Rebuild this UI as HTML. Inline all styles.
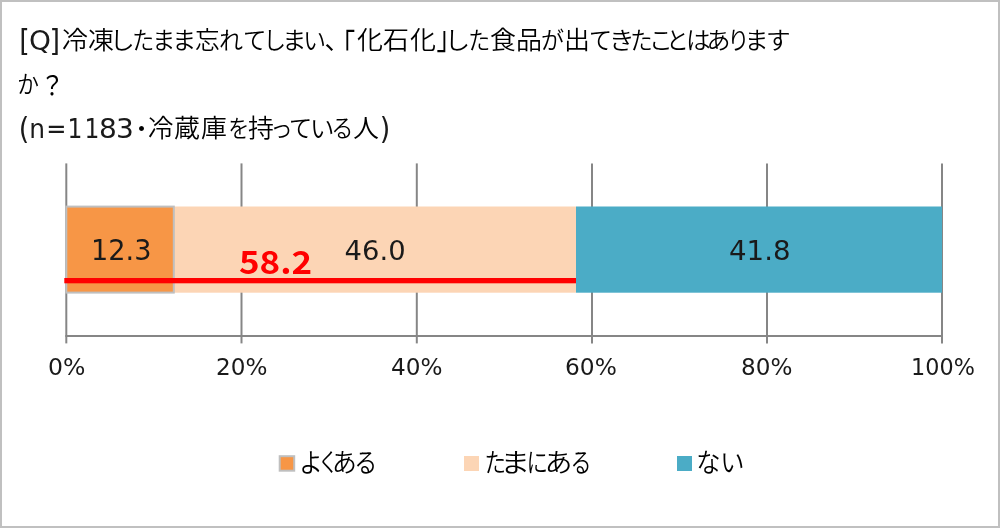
<!DOCTYPE html>
<html><head><meta charset="utf-8">
<style>
html,body{margin:0;padding:0;background:#fff;}
body{width:1000px;height:528px;position:relative;overflow:hidden;}
#frame{position:absolute;left:0;top:0;width:1000px;height:528px;box-sizing:border-box;border:2px solid #c0c0c0;}
.jp{font-family:"DejaVu Sans","Noto Sans CJK JP",sans-serif;color:#000;white-space:nowrap;position:absolute;font-feature-settings:"palt";}
.t{font-size:26.67px;line-height:44px;}
.l{font-size:23px;}
.lat{font-family:"DejaVu Sans",sans-serif;}
.g{position:absolute;white-space:pre;line-height:40px;}
.num{position:absolute;font-family:"DejaVu Sans",sans-serif;white-space:nowrap;color:#000;}
svg{position:absolute;left:0;top:0;}
</style></head>
<body>
<div id="frame"></div>
<svg width="1000" height="528" viewBox="0 0 1000 528">
  <g stroke="#868686" stroke-width="2">
    <line x1="66.3" y1="163.4" x2="66.3" y2="343.4"/>
    <line x1="241.5" y1="163.4" x2="241.5" y2="343.4"/>
    <line x1="416.8" y1="163.4" x2="416.8" y2="343.4"/>
    <line x1="592" y1="163.4" x2="592" y2="343.4"/>
    <line x1="767" y1="163.4" x2="767" y2="343.4"/>
    <line x1="942" y1="163.4" x2="942" y2="343.4"/>
    <line x1="65.3" y1="336" x2="943" y2="336"/>
  </g>
  <rect x="174" y="206.5" width="402" height="86.2" fill="#FCD5B5"/>
  <rect x="576" y="206.5" width="366" height="86.2" fill="#4BACC6"/>
  <rect x="66.3" y="206.6" width="107.5" height="86" fill="#F79646" stroke="#BFBFBF" stroke-width="2"/>
  <rect x="279.7" y="456.2" width="14.5" height="14.5" fill="#F79646" stroke="#BFBFBF" stroke-width="2"/>
  <rect x="64.3" y="278" width="511.7" height="5.3" fill="#FF0000"/>
</svg>

<div id="txt" style="position:absolute;left:0;top:0;width:1000px;height:528px;will-change:transform">
<span class="g" style="left:19.2px;top:20.3px;font-family:'DejaVu Sans',sans-serif;font-size:27px;font-weight:400;color:#1a1a1a;transform:scale(1.000,1.104);transform-origin:2px 9px;">[</span>
<span class="g" style="left:28.6px;top:21.0px;font-family:'DejaVu Sans',sans-serif;font-size:27px;font-weight:400;color:#1a1a1a;transform:scale(1.033,1.000);transform-origin:2px 29px;">Q</span>
<span class="g" style="left:49.4px;top:20.3px;font-family:'DejaVu Sans',sans-serif;font-size:27px;font-weight:400;color:#1a1a1a;transform:scale(1.000,1.104);transform-origin:3px 9px;">]</span>
<span class="g" style="left:61.6px;top:20.2px;font-family:'Liberation Sans','Noto Sans CJK JP',sans-serif;font-size:25.2px;font-weight:350;color:#000;transform:scale(1.030,1.000);transform-origin:1px 29px;">冷</span>
<span class="g" style="left:88.2px;top:20.2px;font-family:'Liberation Sans','Noto Sans CJK JP',sans-serif;font-size:25.2px;font-weight:350;color:#000;transform:scale(1.030,1.000);transform-origin:1px 29px;">凍</span>
<span class="g" style="left:110.0px;top:21.3px;font-family:'Liberation Sans','Noto Sans CJK JP',sans-serif;font-size:24px;font-weight:350;color:#000;transform:scale(1.040,1.000);transform-origin:6px 28px;">し</span>
<span class="g" style="left:132.2px;top:21.3px;font-family:'Liberation Sans','Noto Sans CJK JP',sans-serif;font-size:24px;font-weight:350;color:#000;transform:scale(0.915,1.000);transform-origin:2px 28px;">た</span>
<span class="g" style="left:151.7px;top:21.3px;font-family:'Liberation Sans','Noto Sans CJK JP',sans-serif;font-size:24px;font-weight:350;color:#000;transform:scale(0.971,1.000);transform-origin:4px 28px;">ま</span>
<span class="g" style="left:172.0px;top:21.3px;font-family:'Liberation Sans','Noto Sans CJK JP',sans-serif;font-size:24px;font-weight:350;color:#000;transform:scale(1.012,1.000);transform-origin:4px 28px;">ま</span>
<span class="g" style="left:194.5px;top:20.2px;font-family:'Liberation Sans','Noto Sans CJK JP',sans-serif;font-size:25.2px;font-weight:350;color:#000;transform:scale(0.978,1.000);transform-origin:1px 29px;">忘</span>
<span class="g" style="left:219.0px;top:21.3px;font-family:'Liberation Sans','Noto Sans CJK JP',sans-serif;font-size:24px;font-weight:350;color:#000;">れ</span>
<span class="g" style="left:243.0px;top:21.3px;font-family:'Liberation Sans','Noto Sans CJK JP',sans-serif;font-size:24px;font-weight:350;color:#000;transform:scale(0.979,1.000);transform-origin:2px 28px;">て</span>
<span class="g" style="left:263.2px;top:21.3px;font-family:'Liberation Sans','Noto Sans CJK JP',sans-serif;font-size:24px;font-weight:350;color:#000;transform:scale(0.953,1.000);transform-origin:6px 28px;">し</span>
<span class="g" style="left:281.7px;top:21.3px;font-family:'Liberation Sans','Noto Sans CJK JP',sans-serif;font-size:24px;font-weight:350;color:#000;transform:scale(1.018,1.000);transform-origin:4px 28px;">ま</span>
<span class="g" style="left:303.0px;top:21.3px;font-family:'Liberation Sans','Noto Sans CJK JP',sans-serif;font-size:24px;font-weight:350;color:#000;transform:scale(0.947,1.000);transform-origin:3px 28px;">い</span>
<span class="g" style="left:324.6px;top:20.2px;font-family:'Liberation Sans','Noto Sans CJK JP',sans-serif;font-size:25.2px;font-weight:400;color:#000;">、</span>
<span class="g" style="left:330.0px;top:21.5px;font-family:'Liberation Sans','Noto Sans CJK JP',sans-serif;font-size:25.2px;font-weight:400;color:#000;transform:scale(1.000,1.235);transform-origin:16px 7px;">「</span>
<span class="g" style="left:357.0px;top:20.2px;font-family:'Liberation Sans','Noto Sans CJK JP',sans-serif;font-size:25.2px;font-weight:350;color:#000;transform:scale(1.030,1.000);transform-origin:1px 29px;">化</span>
<span class="g" style="left:382.9px;top:20.2px;font-family:'Liberation Sans','Noto Sans CJK JP',sans-serif;font-size:25.2px;font-weight:350;color:#000;transform:scale(1.030,1.000);transform-origin:1px 29px;">石</span>
<span class="g" style="left:409.5px;top:20.2px;font-family:'Liberation Sans','Noto Sans CJK JP',sans-serif;font-size:25.2px;font-weight:350;color:#000;transform:scale(1.030,1.000);transform-origin:1px 29px;">化</span>
<span class="g" style="left:436.5px;top:15.8px;font-family:'Liberation Sans','Noto Sans CJK JP',sans-serif;font-size:25.2px;font-weight:400;color:#000;transform:scale(1.000,1.271);transform-origin:1px 15px;">」</span>
<span class="g" style="left:445.1px;top:21.3px;font-family:'Liberation Sans','Noto Sans CJK JP',sans-serif;font-size:24px;font-weight:350;color:#000;transform:scale(1.060,1.000);transform-origin:6px 28px;">し</span>
<span class="g" style="left:467.7px;top:21.3px;font-family:'Liberation Sans','Noto Sans CJK JP',sans-serif;font-size:24px;font-weight:350;color:#000;transform:scale(0.915,1.000);transform-origin:2px 28px;">た</span>
<span class="g" style="left:489.9px;top:20.2px;font-family:'Liberation Sans','Noto Sans CJK JP',sans-serif;font-size:25.2px;font-weight:350;color:#000;transform:scale(1.030,1.000);transform-origin:1px 29px;">食</span>
<span class="g" style="left:516.3px;top:20.2px;font-family:'Liberation Sans','Noto Sans CJK JP',sans-serif;font-size:25.2px;font-weight:350;color:#000;transform:scale(1.030,1.000);transform-origin:2px 29px;">品</span>
<span class="g" style="left:541.0px;top:21.3px;font-family:'Liberation Sans','Noto Sans CJK JP',sans-serif;font-size:24px;font-weight:350;color:#000;transform:scale(0.962,1.000);transform-origin:2px 28px;">が</span>
<span class="g" style="left:563.6px;top:20.2px;font-family:'Liberation Sans','Noto Sans CJK JP',sans-serif;font-size:25.2px;font-weight:350;color:#000;transform:scale(1.030,1.000);transform-origin:3px 29px;">出</span>
<span class="g" style="left:589.1px;top:21.3px;font-family:'Liberation Sans','Noto Sans CJK JP',sans-serif;font-size:24px;font-weight:350;color:#000;transform:scale(0.963,1.000);transform-origin:2px 28px;">て</span>
<span class="g" style="left:608.7px;top:21.3px;font-family:'Liberation Sans','Noto Sans CJK JP',sans-serif;font-size:24px;font-weight:350;color:#000;transform:scale(1.081,1.000);transform-origin:4px 28px;">き</span>
<span class="g" style="left:629.5px;top:21.3px;font-family:'Liberation Sans','Noto Sans CJK JP',sans-serif;font-size:24px;font-weight:350;color:#000;transform:scale(0.935,1.000);transform-origin:2px 28px;">た</span>
<span class="g" style="left:649.2px;top:21.3px;font-family:'Liberation Sans','Noto Sans CJK JP',sans-serif;font-size:24px;font-weight:350;color:#000;transform:scale(0.987,1.000);transform-origin:4px 28px;">こ</span>
<span class="g" style="left:666.4px;top:21.3px;font-family:'Liberation Sans','Noto Sans CJK JP',sans-serif;font-size:24px;font-weight:350;color:#000;transform:scale(0.940,1.000);transform-origin:5px 28px;">と</span>
<span class="g" style="left:685.5px;top:21.3px;font-family:'Liberation Sans','Noto Sans CJK JP',sans-serif;font-size:24px;font-weight:350;color:#000;transform:scale(1.026,1.000);transform-origin:3px 28px;">は</span>
<span class="g" style="left:706.5px;top:21.3px;font-family:'Liberation Sans','Noto Sans CJK JP',sans-serif;font-size:24px;font-weight:350;color:#000;">あ</span>
<span class="g" style="left:726.5px;top:21.3px;font-family:'Liberation Sans','Noto Sans CJK JP',sans-serif;font-size:24px;font-weight:350;color:#000;transform:scale(0.929,1.000);transform-origin:5px 28px;">り</span>
<span class="g" style="left:744.5px;top:21.3px;font-family:'Liberation Sans','Noto Sans CJK JP',sans-serif;font-size:24px;font-weight:350;color:#000;">ま</span>
<span class="g" style="left:766.0px;top:21.3px;font-family:'Liberation Sans','Noto Sans CJK JP',sans-serif;font-size:24px;font-weight:350;color:#000;transform:scale(1.025,1.000);transform-origin:2px 28px;">す</span>
<span class="g" style="left:16.5px;top:65.3px;font-family:'Liberation Sans','Noto Sans CJK JP',sans-serif;font-size:24px;font-weight:350;color:#000;transform:scale(0.905,1.000);transform-origin:2px 28px;">か</span>
<span class="g" style="left:39.7px;top:64.7px;font-family:'Liberation Sans','Noto Sans CJK JP',sans-serif;font-size:25.2px;font-weight:400;color:#000;transform:scale(0.958,1.053);transform-origin:7px 10px;">？</span>
<span class="g" style="left:18.8px;top:107.8px;font-family:'DejaVu Sans',sans-serif;font-size:27px;font-weight:400;color:#1a1a1a;transform:scale(1.000,1.083);transform-origin:2px 9px;">(</span>
<span class="g" style="left:29.4px;top:109.0px;font-family:'DejaVu Sans',sans-serif;font-size:27px;font-weight:400;color:#1a1a1a;transform:scale(0.923,1.000);transform-origin:2px 29px;">n</span>
<span class="g" style="left:45.6px;top:109.0px;font-family:'DejaVu Sans',sans-serif;font-size:27px;font-weight:400;color:#1a1a1a;transform:scale(0.894,1.000);transform-origin:3px 29px;">=</span>
<span class="g" style="left:67.2px;top:109.0px;font-family:'DejaVu Sans',sans-serif;font-size:27px;font-weight:400;color:#1a1a1a;transform:scale(0.867,1.000);transform-origin:3px 29px;">1</span>
<span class="g" style="left:84.0px;top:109.0px;font-family:'DejaVu Sans',sans-serif;font-size:27px;font-weight:400;color:#1a1a1a;transform:scale(0.867,1.000);transform-origin:3px 29px;">1</span>
<span class="g" style="left:99.0px;top:109.0px;font-family:'DejaVu Sans',sans-serif;font-size:27px;font-weight:400;color:#1a1a1a;transform:scale(1.038,1.000);transform-origin:2px 29px;">8</span>
<span class="g" style="left:116.2px;top:109.0px;font-family:'DejaVu Sans',sans-serif;font-size:27px;font-weight:400;color:#1a1a1a;transform:scale(1.038,1.000);transform-origin:2px 29px;">3</span>
<span class="g" style="left:129.4px;top:109.3px;font-family:'Liberation Sans','Noto Sans CJK JP',sans-serif;font-size:24px;font-weight:350;color:#000;">・</span>
<span class="g" style="left:148.0px;top:108.2px;font-family:'Liberation Sans','Noto Sans CJK JP',sans-serif;font-size:25.2px;font-weight:350;color:#000;transform:scale(1.009,1.000);transform-origin:1px 29px;">冷</span>
<span class="g" style="left:174.4px;top:108.2px;font-family:'Liberation Sans','Noto Sans CJK JP',sans-serif;font-size:25.2px;font-weight:350;color:#000;transform:scale(1.030,1.000);transform-origin:1px 29px;">蔵</span>
<span class="g" style="left:200.9px;top:108.2px;font-family:'Liberation Sans','Noto Sans CJK JP',sans-serif;font-size:25.2px;font-weight:350;color:#000;transform:scale(1.030,1.000);transform-origin:1px 29px;">庫</span>
<span class="g" style="left:227.5px;top:109.3px;font-family:'Liberation Sans','Noto Sans CJK JP',sans-serif;font-size:24px;font-weight:350;color:#000;transform:scale(0.878,1.000);transform-origin:3px 28px;">を</span>
<span class="g" style="left:247.9px;top:108.2px;font-family:'Liberation Sans','Noto Sans CJK JP',sans-serif;font-size:25.2px;font-weight:350;color:#000;transform:scale(1.030,1.000);transform-origin:1px 29px;">持</span>
<span class="g" style="left:270.0px;top:109.3px;font-family:'Liberation Sans','Noto Sans CJK JP',sans-serif;font-size:24px;font-weight:350;color:#000;transform:scale(0.938,1.000);transform-origin:4px 28px;">っ</span>
<span class="g" style="left:289.3px;top:109.3px;font-family:'Liberation Sans','Noto Sans CJK JP',sans-serif;font-size:24px;font-weight:350;color:#000;transform:scale(0.968,1.000);transform-origin:2px 28px;">て</span>
<span class="g" style="left:309.9px;top:109.3px;font-family:'Liberation Sans','Noto Sans CJK JP',sans-serif;font-size:24px;font-weight:350;color:#000;transform:scale(1.016,1.000);transform-origin:3px 28px;">い</span>
<span class="g" style="left:330.8px;top:109.3px;font-family:'Liberation Sans','Noto Sans CJK JP',sans-serif;font-size:24px;font-weight:350;color:#000;transform:scale(0.924,1.000);transform-origin:3px 28px;">る</span>
<span class="g" style="left:352.9px;top:108.2px;font-family:'Liberation Sans','Noto Sans CJK JP',sans-serif;font-size:25.2px;font-weight:350;color:#000;transform:scale(1.030,1.000);transform-origin:1px 29px;">人</span>
<span class="g" style="left:379.7px;top:107.8px;font-family:'DejaVu Sans',sans-serif;font-size:27px;font-weight:400;color:#1a1a1a;transform:scale(1.000,1.083);transform-origin:2px 9px;">)</span>
<span class="g" style="left:298.8px;top:443.3px;font-family:'Liberation Sans','Noto Sans CJK JP',sans-serif;font-size:25.6px;font-weight:350;color:#000;transform:scale(0.921,1.000);transform-origin:3px 29px;">よ</span>
<span class="g" style="left:316.6px;top:443.3px;font-family:'Liberation Sans','Noto Sans CJK JP',sans-serif;font-size:25.6px;font-weight:350;color:#000;transform:scale(0.800,1.000);transform-origin:5px 29px;">く</span>
<span class="g" style="left:331.6px;top:443.3px;font-family:'Liberation Sans','Noto Sans CJK JP',sans-serif;font-size:25.6px;font-weight:350;color:#000;transform:scale(0.970,1.000);transform-origin:3px 29px;">あ</span>
<span class="g" style="left:354.2px;top:443.3px;font-family:'Liberation Sans','Noto Sans CJK JP',sans-serif;font-size:25.6px;font-weight:350;color:#000;transform:scale(0.900,1.000);transform-origin:3px 29px;">る</span>
<span class="g" style="left:484.2px;top:443.3px;font-family:'Liberation Sans','Noto Sans CJK JP',sans-serif;font-size:25.6px;font-weight:350;color:#000;transform:scale(0.840,1.000);transform-origin:3px 29px;">た</span>
<span class="g" style="left:500.8px;top:443.3px;font-family:'Liberation Sans','Noto Sans CJK JP',sans-serif;font-size:25.6px;font-weight:350;color:#000;transform:scale(1.165,1.000);transform-origin:5px 29px;">ま</span>
<span class="g" style="left:526.2px;top:443.3px;font-family:'Liberation Sans','Noto Sans CJK JP',sans-serif;font-size:25.6px;font-weight:350;color:#000;transform:scale(0.840,1.000);transform-origin:3px 29px;">に</span>
<span class="g" style="left:544.8px;top:443.3px;font-family:'Liberation Sans','Noto Sans CJK JP',sans-serif;font-size:25.6px;font-weight:350;color:#000;transform:scale(1.080,1.000);transform-origin:3px 29px;">あ</span>
<span class="g" style="left:570.0px;top:443.3px;font-family:'Liberation Sans','Noto Sans CJK JP',sans-serif;font-size:25.6px;font-weight:350;color:#000;transform:scale(0.821,1.000);transform-origin:3px 29px;">る</span>
<span class="g" style="left:696.3px;top:443.3px;font-family:'Liberation Sans','Noto Sans CJK JP',sans-serif;font-size:25.6px;font-weight:350;color:#000;transform:scale(0.948,1.000);transform-origin:3px 29px;">な</span>
<span class="g" style="left:719.5px;top:443.3px;font-family:'Liberation Sans','Noto Sans CJK JP',sans-serif;font-size:25.6px;font-weight:350;color:#000;transform:scale(0.945,1.000);transform-origin:3px 29px;">い</span>
<span class="g" style="left:90.9px;top:230.8px;font-family:'DejaVu Sans',sans-serif;font-size:27.4px;font-weight:400;color:#1a1a1a;transform:scale(0.991,1.005);transform-origin:3px 9px;">12.3</span>
<span class="g" style="left:344.6px;top:231.2px;font-family:'DejaVu Sans',sans-serif;font-size:27.4px;font-weight:400;color:#1a1a1a;">46.0</span>
<span class="g" style="left:728.5px;top:231.2px;font-family:'DejaVu Sans',sans-serif;font-size:27.4px;font-weight:400;color:#1a1a1a;transform:scale(1.009,0.990);transform-origin:1px 9px;">41.8</span>
<span class="g" style="left:239.1px;top:240.6px;font-family:'Noto Sans CJK JP',sans-serif;font-size:33px;font-weight:700;color:#FF0000;transform:scale(1.060,0.975);transform-origin:1px 10px;">58.2</span>
<span class="g" style="left:48.4px;top:347.0px;font-family:'DejaVu Sans',sans-serif;font-size:23px;font-weight:400;color:#1a1a1a;transform:scale(1.024,0.994);transform-origin:1px 11px;">0%</span>
<span class="g" style="left:216.4px;top:347.0px;font-family:'DejaVu Sans',sans-serif;font-size:23px;font-weight:400;color:#1a1a1a;transform:scale(1.006,0.988);transform-origin:2px 11px;">20%</span>
<span class="g" style="left:390.6px;top:347.0px;font-family:'DejaVu Sans',sans-serif;font-size:23px;font-weight:400;color:#1a1a1a;transform:scale(1.008,0.988);transform-origin:1px 11px;">40%</span>
<span class="g" style="left:565.3px;top:347.0px;font-family:'DejaVu Sans',sans-serif;font-size:23px;font-weight:400;color:#1a1a1a;transform:scale(1.015,0.988);transform-origin:2px 11px;">60%</span>
<span class="g" style="left:740.7px;top:347.0px;font-family:'DejaVu Sans',sans-serif;font-size:23px;font-weight:400;color:#1a1a1a;transform:scale(1.006,0.988);transform-origin:2px 11px;">80%</span>
<span class="g" style="left:910.6px;top:347.1px;font-family:'DejaVu Sans',sans-serif;font-size:23px;font-weight:400;color:#1a1a1a;transform:scale(0.970,0.994);transform-origin:2px 11px;">100%</span>
</div>


<div style="position:absolute;left:464px;top:456px;width:15px;height:15px;background:#FCD5B5;"></div>
<div style="position:absolute;left:677px;top:456px;width:15px;height:15px;background:#4BACC6;"></div>
</body></html>
